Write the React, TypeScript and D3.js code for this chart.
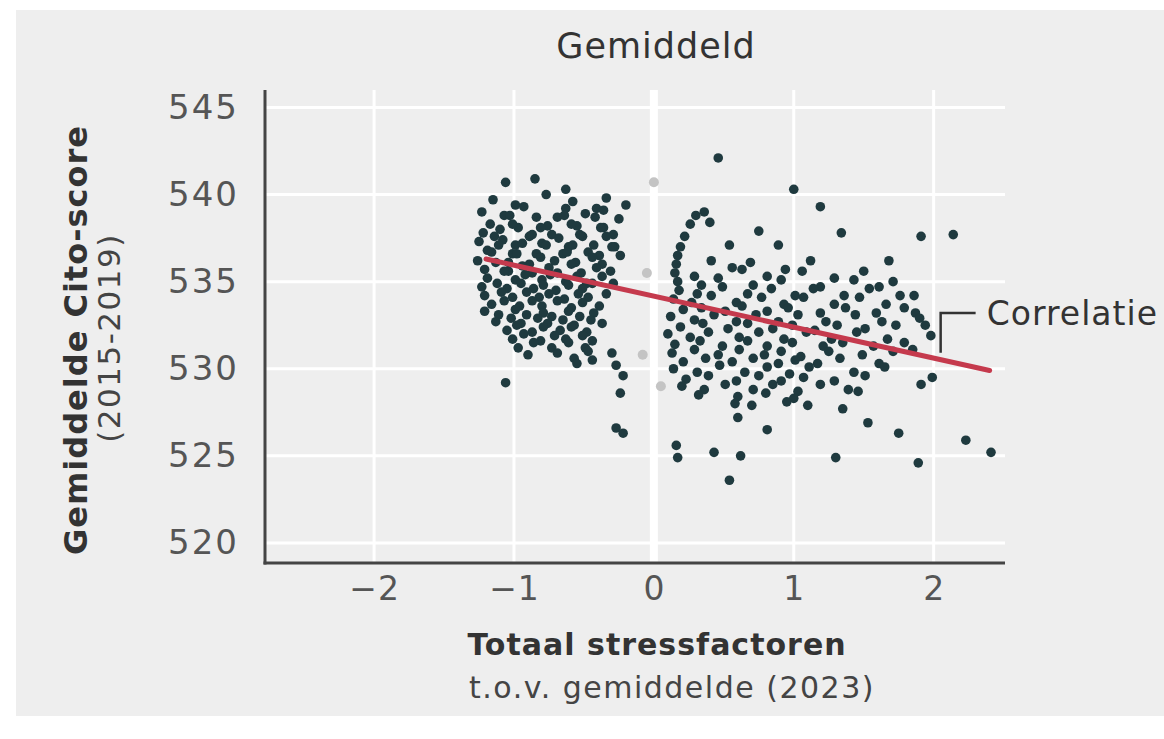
import React from "react";
import * as d3 from "d3";

// x = totaal stressfactoren t.o.v. gemiddelde, y = gemiddelde Cito-score
const xTicks = [-2, -1, 0, 1, 2];
const yTicks = [520, 525, 530, 535, 540, 545];

const westPoints: [number, number][] = [
  [-1.06, 540.7], [-0.85, 540.9], [-0.63, 540.3],
  [-1.15, 539.7], [-0.99, 539.4], [-0.77, 540.0], [-0.58, 539.6], [-0.41, 539.2], [-0.34, 539.8], [-0.2, 539.4],
  [-1.23, 539.0], [-1.07, 538.8], [-0.93, 539.3], [-0.69, 538.7], [-0.63, 539.2], [-0.49, 538.9], [-0.36, 539.1],
  [-1.17, 538.3], [-1.03, 538.8], [-0.97, 538.1], [-0.84, 538.7], [-0.76, 538.2], [-0.64, 538.8], [-0.55, 538.2], [-0.42, 538.7], [-0.36, 538.1], [-0.25, 538.6],
  [-1.22, 537.8], [-1.1, 538.0], [-1.01, 538.3], [-0.89, 537.6], [-0.81, 538.1], [-0.73, 537.7], [-0.59, 538.3], [-0.51, 537.6], [-0.38, 538.1], [-0.29, 537.7],
  [-1.25, 537.3], [-1.14, 537.6], [-1.08, 537.4], [-0.99, 537.1], [-0.87, 537.7], [-0.8, 537.2], [-0.68, 537.5], [-0.61, 537.0], [-0.53, 537.7], [-0.43, 537.1], [-0.34, 537.6], [-0.28, 537.0],
  [-1.19, 536.8], [-1.11, 537.1], [-1.01, 536.6], [-0.94, 537.2], [-0.84, 536.6], [-0.77, 537.1], [-0.65, 536.6], [-0.58, 537.1], [-0.47, 536.7], [-0.39, 536.5], [-0.3, 537.0],
  [-1.26, 536.2], [-1.16, 536.7], [-1.04, 536.1], [-0.98, 536.6], [-0.89, 536.0], [-0.81, 536.4], [-0.71, 536.2], [-0.62, 536.7], [-0.56, 536.1], [-0.44, 536.4], [-0.37, 536.0], [-0.24, 536.5],
  [-1.21, 535.7], [-1.13, 536.1], [-1.04, 535.6], [-0.94, 535.9], [-0.87, 535.5], [-0.75, 535.8], [-0.69, 535.5], [-0.59, 536.0], [-0.52, 535.5], [-0.41, 535.8], [-0.31, 535.6],
  [-1.19, 535.2], [-1.07, 535.6], [-0.99, 535.1], [-0.92, 535.4], [-0.8, 535.1], [-0.74, 535.4], [-0.63, 535.0], [-0.55, 535.3], [-0.48, 534.9], [-0.37, 535.3], [-0.29, 534.9],
  [-1.23, 534.7], [-1.12, 534.9], [-1.05, 534.6], [-0.95, 534.9], [-0.86, 534.6], [-0.79, 534.8], [-0.7, 534.5], [-0.61, 534.8], [-0.51, 534.6], [-0.44, 534.9],
  [-1.21, 534.2], [-1.09, 534.4], [-1.01, 534.1], [-0.91, 534.4], [-0.82, 534.1], [-0.75, 534.3], [-0.64, 534.0], [-0.54, 534.3], [-0.47, 534.1], [-0.34, 534.3],
  [-1.16, 533.7], [-1.07, 533.9], [-0.96, 533.6], [-0.87, 533.9], [-0.8, 533.6], [-0.69, 533.9], [-0.59, 533.5], [-0.51, 533.8], [-0.39, 533.6],
  [-1.21, 533.3], [-1.11, 533.1], [-0.99, 533.4], [-0.91, 533.1], [-0.79, 533.2], [-0.73, 533.0], [-0.61, 533.3], [-0.53, 533.0], [-0.43, 533.2],
  [-1.13, 532.7], [-1.02, 532.9], [-0.95, 532.6], [-0.83, 532.9], [-0.76, 532.6], [-0.65, 532.8], [-0.57, 532.5], [-0.45, 532.8], [-0.37, 532.6],
  [-1.05, 532.2], [-0.98, 532.5], [-0.87, 532.1], [-0.79, 532.4], [-0.67, 532.2], [-0.59, 532.4], [-0.48, 532.1],
  [-1.01, 531.7], [-0.93, 532.0], [-0.81, 531.6], [-0.71, 531.9], [-0.63, 531.7], [-0.51, 531.9], [-0.44, 531.6],
  [-0.97, 531.2], [-0.86, 531.5], [-0.73, 531.2], [-0.61, 531.5], [-0.49, 531.2],
  [-0.9, 530.8], [-0.69, 530.9], [-0.57, 530.6], [-0.47, 531.0], [-0.3, 530.9],
  [-0.55, 530.3], [-0.44, 530.5], [-0.27, 530.2],
  [-1.06, 529.2], [-0.22, 529.6], [-0.24, 528.6], [-0.27, 526.6], [-0.22, 526.3],
];

const eastPoints: [number, number][] = [
  [0.46, 542.1], [1.0, 540.3], [1.19, 539.3], [0.75, 537.9], [0.54, 537.1], [0.89, 537.1], [1.12, 536.2],
  [1.34, 537.8], [1.91, 537.6], [2.14, 537.7], [1.68, 536.2], [1.71, 535.0], [1.86, 534.2], [1.87, 533.2], [1.94, 532.5],
  [0.3, 538.8], [0.36, 539.0], [0.26, 538.3], [0.4, 538.4], [0.22, 537.6], [0.19, 537.0], [0.17, 536.5],
  [0.16, 536.0], [0.41, 536.2], [0.56, 535.8], [0.69, 536.1], [0.94, 535.7],
  [0.15, 535.5], [0.29, 535.3], [0.63, 535.7], [0.81, 535.3], [1.06, 535.6], [1.29, 535.2], [1.5, 535.6],
  [0.17, 535.0], [0.34, 534.8], [0.46, 535.2], [0.71, 534.8], [0.91, 535.1], [1.19, 534.7], [1.43, 535.1], [1.61, 534.7],
  [0.18, 534.5], [0.31, 534.3], [0.49, 534.7], [0.67, 534.3], [0.84, 534.6], [1.01, 534.2], [1.14, 534.6], [1.36, 534.2], [1.54, 534.6], [1.76, 534.2],
  [0.14, 534.0], [0.27, 533.8], [0.41, 534.2], [0.59, 533.8], [0.77, 534.1], [0.93, 533.7], [1.07, 534.1], [1.29, 533.7], [1.47, 534.1], [1.66, 533.7],
  [0.21, 533.4], [0.34, 533.5], [0.51, 533.3], [0.63, 533.6], [0.81, 533.3], [0.96, 533.5], [1.19, 533.2], [1.37, 533.5], [1.59, 533.2], [1.79, 533.5],
  [0.12, 533.0], [0.29, 532.8], [0.43, 533.1], [0.59, 532.7], [0.73, 533.1], [0.89, 532.7], [1.03, 533.1], [1.23, 532.7], [1.44, 533.1], [1.63, 532.7], [1.9, 532.9],
  [0.19, 532.4], [0.35, 532.6], [0.53, 532.3], [0.67, 532.6], [0.85, 532.3], [0.99, 532.5], [1.15, 532.2], [1.31, 532.5], [1.51, 532.3], [1.73, 532.5],
  [0.1, 532.0], [0.26, 531.8], [0.39, 532.1], [0.61, 531.8], [0.75, 532.1], [0.93, 531.7], [1.09, 532.1], [1.27, 531.7], [1.45, 532.1], [1.67, 531.7], [1.98, 531.9],
  [0.15, 531.4], [0.33, 531.6], [0.49, 531.3], [0.67, 531.6], [0.81, 531.3], [0.99, 531.5], [1.21, 531.3], [1.35, 531.5], [1.57, 531.3], [1.79, 531.5],
  [0.13, 530.9], [0.29, 531.1], [0.46, 530.8], [0.61, 531.1], [0.79, 530.8], [0.91, 531.0], [1.05, 530.7], [1.25, 531.0], [1.49, 530.8], [1.71, 531.0], [1.85, 531.1],
  [0.21, 530.4], [0.37, 530.6], [0.56, 530.4], [0.71, 530.6], [0.89, 530.3], [1.01, 530.5], [1.17, 530.3], [1.33, 530.6], [1.61, 530.3],
  [0.14, 530.0], [0.31, 529.8], [0.47, 530.2], [0.65, 529.8], [0.81, 530.1], [0.97, 529.7], [1.11, 530.1], [1.43, 529.8], [1.65, 530.1],
  [0.23, 529.4], [0.39, 529.6], [0.59, 529.3], [0.75, 529.6], [0.91, 529.3], [1.07, 529.5], [1.29, 529.3], [1.51, 529.6], [1.99, 529.5],
  [0.2, 529.0], [0.36, 528.8], [0.51, 529.1], [0.71, 528.8], [0.85, 529.1], [1.03, 528.7], [1.19, 529.1], [1.39, 528.8], [1.91, 529.1],
  [0.32, 528.5], [0.6, 528.4], [0.8, 528.6], [1.0, 528.3], [1.46, 528.7],
  [0.58, 528.0], [0.7, 527.9], [0.95, 528.1], [1.1, 527.9],
  [1.35, 527.7], [1.53, 526.9], [1.75, 526.3], [2.23, 525.9], [2.41, 525.2], [1.3, 524.9], [1.89, 524.6],
  [0.6, 527.2], [0.81, 526.5], [0.16, 525.6], [0.17, 524.9], [0.43, 525.2], [0.62, 525.0], [0.54, 523.6],
];

// faint, light grey points near the average
const greyPoints: [number, number][] = [
  [0.0, 540.7], [-0.08, 530.8], [0.05, 529.0], [-0.05, 535.5],
];

const correlationLine: [number, number][] = [[-1.2, 536.3], [2.4, 529.9]];

const FONT = "'DejaVu Sans', sans-serif";

const App = () => {
  const svgRef = React.useRef<SVGSVGElement>(null);
  const width = 1164;
  const height = 739;

  React.useEffect(() => {
    const xScale = d3.scaleLinear().domain([-2.78, 2.51]).range([265, 1005]);
    const yScale = d3.scaleLinear().domain([518.85, 546]).range([563, 90]);

    const svg = d3.select(svgRef.current);
    svg.selectAll("*").remove();

    svg.append("rect").attr("width", width).attr("height", height).attr("fill", "#ffffff");
    svg.append("rect").attr("x", 16).attr("y", 10).attr("width", width - 16).attr("height", 706).attr("fill", "#eeeeee");

    // grid lines
    const grid = svg.append("g");
    grid.selectAll(".hgrid")
      .data(yTicks)
      .enter()
      .append("line")
      .attr("x1", xScale(-2.78))
      .attr("x2", xScale(2.51))
      .attr("y1", (d) => yScale(d))
      .attr("y2", (d) => yScale(d))
      .attr("stroke", "#ffffff")
      .attr("stroke-width", 3);
    grid.selectAll(".vgrid")
      .data(xTicks)
      .enter()
      .append("line")
      .attr("x1", (d) => xScale(d))
      .attr("x2", (d) => xScale(d))
      .attr("y1", yScale(546))
      .attr("y2", yScale(518.85))
      .attr("stroke", "#ffffff")
      .attr("stroke-width", (d) => (d === 0 ? 8 : 3));

    // axes
    const xAxis = d3.axisBottom(xScale).tickValues(xTicks).tickSize(0).tickPadding(14)
      .tickFormat((d) => d3.format("")(d as number).replace("-", "\u2212"));
    const xg = svg.append("g").attr("transform", `translate(0, ${yScale(518.85)})`).call(xAxis);
    xg.select(".domain").remove();
    xg.selectAll("text").attr("font-size", 33).attr("font-family", FONT).attr("fill", "#555").attr("letter-spacing", 1);

    const yAxis = d3.axisLeft(yScale).tickValues(yTicks).tickSize(0).tickPadding(26);
    const yg = svg.append("g").attr("transform", `translate(${xScale(-2.78)}, 0)`).call(yAxis);
    yg.select(".domain").remove();
    yg.selectAll("text").attr("font-size", 34).attr("font-family", FONT).attr("fill", "#555").attr("letter-spacing", 2);

    svg.append("line")
      .attr("x1", xScale(-2.78)).attr("x2", xScale(-2.78))
      .attr("y1", yScale(546)).attr("y2", yScale(518.85) + 1.5)
      .attr("stroke", "#444").attr("stroke-width", 3);
    svg.append("line")
      .attr("x1", xScale(-2.78) - 1.5).attr("x2", xScale(2.51))
      .attr("y1", yScale(518.85)).attr("y2", yScale(518.85))
      .attr("stroke", "#444").attr("stroke-width", 3);

    // points
    svg.append("g").selectAll("circle")
      .data(greyPoints)
      .enter()
      .append("circle")
      .attr("cx", (d) => xScale(d[0]))
      .attr("cy", (d) => yScale(d[1]))
      .attr("r", 5)
      .attr("fill", "#c4c4c4");
    svg.append("g").selectAll("circle")
      .data([...westPoints, ...eastPoints])
      .enter()
      .append("circle")
      .attr("cx", (d) => xScale(d[0]))
      .attr("cy", (d) => yScale(d[1]))
      .attr("r", 4.8)
      .attr("fill", "#1f3a3f");

    // correlation line
    const line = d3.line<[number, number]>()
      .x((d) => xScale(d[0]))
      .y((d) => yScale(d[1]));
    svg.append("path")
      .attr("d", line(correlationLine))
      .attr("fill", "none")
      .attr("stroke", "#c53a4d")
      .attr("stroke-width", 5)
      .attr("stroke-linecap", "round");

    // annotation
    const ax = 2.05;
    const ay = correlationLine[0][1] + (ax - correlationLine[0][0]) * (correlationLine[1][1] - correlationLine[0][1]) / (correlationLine[1][0] - correlationLine[0][0]);
    svg.append("path")
      .attr("d", line([[ax, ay + 0.4], [ax, 533.2], [2.3, 533.2]]))
      .attr("fill", "none")
      .attr("stroke", "#333")
      .attr("stroke-width", 2.5);
    svg.append("text")
      .attr("x", xScale(2.38))
      .attr("y", yScale(533.2))
      .attr("dy", "0.35em")
      .attr("font-family", FONT)
      .attr("font-size", 33)
      .attr("letter-spacing", 1)
      .attr("fill", "#333")
      .text("Correlatie");

    // titles
    svg.append("text")
      .attr("x", 656).attr("y", 58)
      .attr("text-anchor", "middle")
      .attr("font-family", FONT).attr("font-size", 35).attr("letter-spacing", 1).attr("fill", "#333")
      .text("Gemiddeld");

    svg.append("text")
      .attr("transform", "translate(87, 340) rotate(-90)")
      .attr("text-anchor", "middle")
      .attr("font-family", FONT).attr("font-size", 32).attr("letter-spacing", 1).attr("font-weight", "bold").attr("fill", "#333")
      .text("Gemiddelde Cito-score");
    svg.append("text")
      .attr("transform", "translate(120, 338) rotate(-90)")
      .attr("text-anchor", "middle")
      .attr("font-family", FONT).attr("font-size", 31).attr("letter-spacing", 1.5).attr("fill", "#444")
      .text("(2015-2019)");

    svg.append("text")
      .attr("x", 657).attr("y", 655)
      .attr("text-anchor", "middle")
      .attr("font-family", FONT).attr("font-size", 30).attr("letter-spacing", 1).attr("font-weight", "bold").attr("fill", "#333")
      .text("Totaal stressfactoren");
    svg.append("text")
      .attr("x", 672).attr("y", 698)
      .attr("text-anchor", "middle")
      .attr("font-family", FONT).attr("font-size", 30).attr("letter-spacing", 1.5).attr("fill", "#444")
      .text("t.o.v. gemiddelde (2023)");
  }, []);

  return (
    <svg
      ref={svgRef}
      width={width}
      height={height}
      style={{ position: "absolute", left: 0, top: 0 }}
    />
  );
};

export default App;
